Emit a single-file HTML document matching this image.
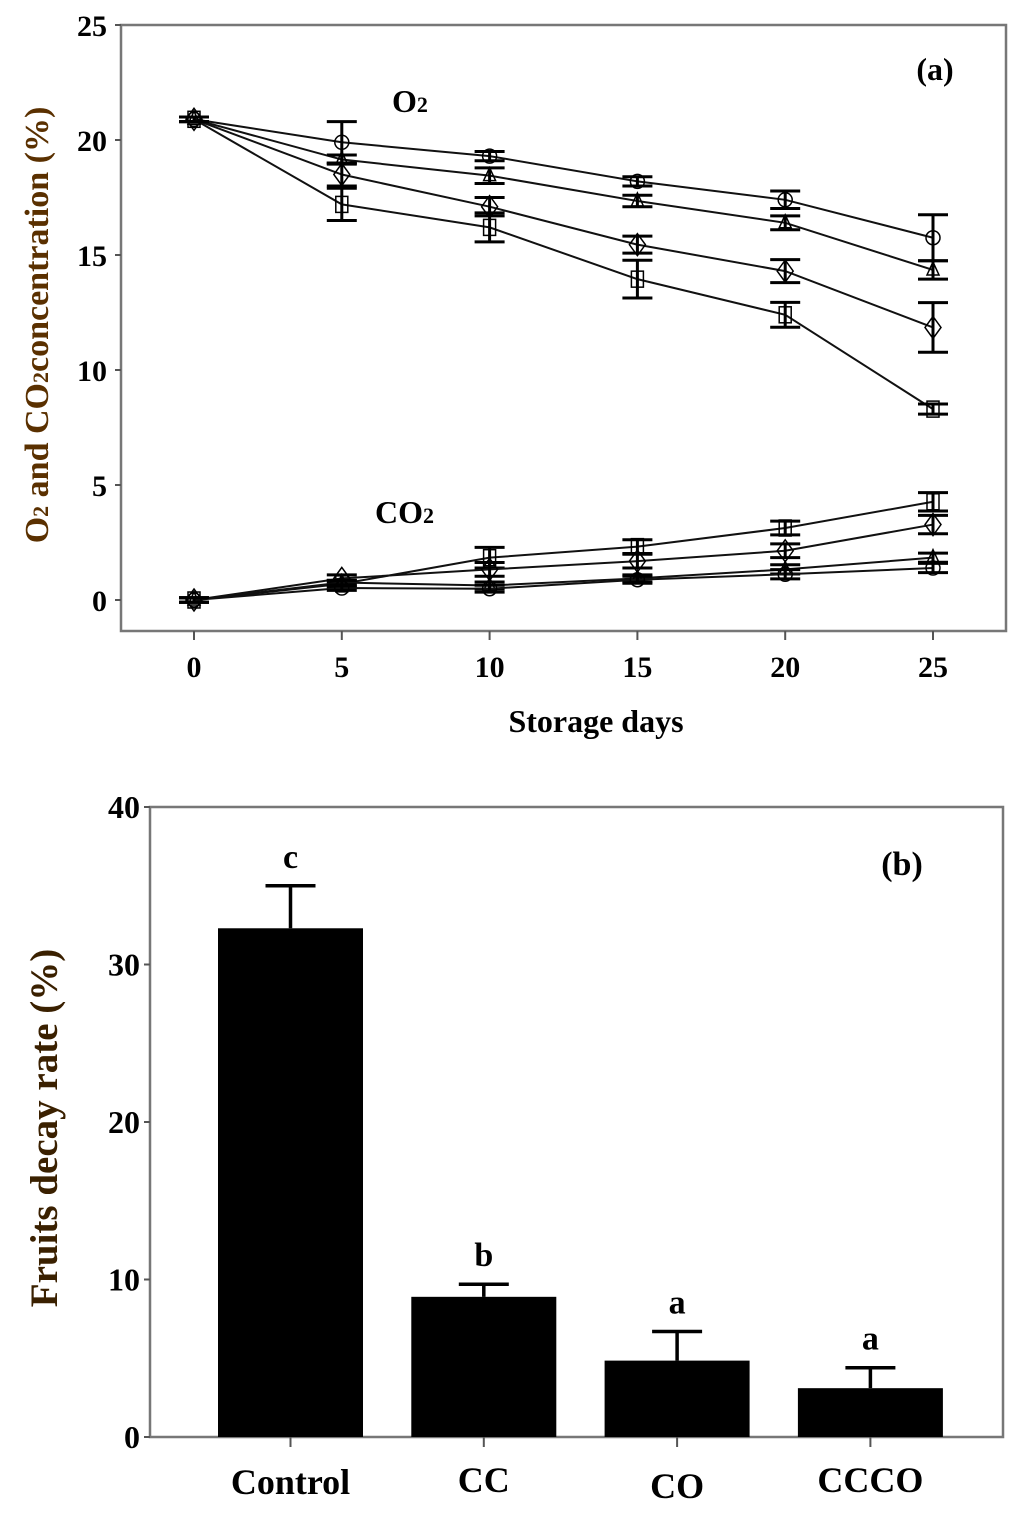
<!DOCTYPE html>
<html><head><meta charset="utf-8"><style>
body{margin:0;background:#fff;}
svg{display:block;font-family:"Liberation Serif",serif;font-weight:bold;}
</style></head><body>
<svg id="chart" width="1024" height="1518" viewBox="0 0 1024 1518" xmlns="http://www.w3.org/2000/svg"></svg>
<script>
// Panel (a) data
const days = [0, 5, 10, 15, 20, 25];
const o2Circle = [20.9, 19.9, 19.3, 18.2, 17.4, 15.75];
const o2CircleErr = [0.1, 0.9, 0.2, 0.2, 0.38, 1.0];
const o2Triangle = [20.9, 19.15, 18.45, 17.35, 16.4, 14.35];
const o2TriangleErr = [0.1, 0.2, 0.34, 0.25, 0.3, 0.4];
const o2Diamond = [20.9, 18.5, 17.1, 15.45, 14.3, 11.85];
const o2DiamondErr = [0.1, 0.5, 0.4, 0.37, 0.5, 1.08];
const o2Square = [20.9, 17.2, 16.2, 13.95, 12.4, 8.3];
const o2SquareErr = [0.1, 0.7, 0.63, 0.82, 0.54, 0.22];
const co2Square = [0, 0.7, 1.84, 2.32, 3.13, 4.27];
const co2SquareErr = [0.1, 0.15, 0.45, 0.3, 0.3, 0.4];
const co2Diamond = [0, 0.94, 1.33, 1.69, 2.14, 3.28];
const co2DiamondErr = [0.1, 0.15, 0.3, 0.3, 0.3, 0.4];
const co2Triangle = [0, 0.76, 0.63, 0.94, 1.33, 1.84];
const co2TriangleErr = [0.1, 0.1, 0.15, 0.15, 0.2, 0.2];
const co2Circle = [0, 0.52, 0.49, 0.88, 1.12, 1.39];
const co2CircleErr = [0.1, 0.1, 0.15, 0.15, 0.2, 0.2];
const yTicksA = [0, 5, 10, 15, 20, 25];
// Panel (b) data
const treatments = ["Control", "CC", "CO", "CCCO"];
const decay = [32.3, 8.9, 4.85, 3.1];
const decayErr = [2.7, 0.8, 1.85, 1.3];
const letters = ["c", "b", "a", "a"];
const yTicksB = [0, 10, 20, 30, 40];

const svg = document.getElementById('chart');
const NS = 'http://www.w3.org/2000/svg';
function mk(tag, attrs, parent) {
  const e = document.createElementNS(NS, tag);
  for (const k in attrs) e.setAttribute(k, attrs[k]);
  (parent || svg).appendChild(e);
  return e;
}
function txt(s, x, y, size, anchor, parent) {
  const t = mk('text', {x: x, y: y, 'font-size': size, 'text-anchor': anchor || 'middle'}, parent);
  t.textContent = s;
  return t;
}

// ---------- Panel A ----------
const ax = {l: 121, r: 1006, t: 25, b: 631};
const xA = d => 194 + d * (933 - 194) / 25;
const yA = v => 600 - v * (600 - 25) / 25;
const gA = mk('g', {});


const frameA = mk('rect', {x: ax.l, y: ax.t, width: ax.r - ax.l, height: ax.b - ax.t, fill: 'none', stroke: '#777', 'stroke-width': 2.5}, gA);


yTicksA.forEach(v => {
  mk('line', {x1: ax.l - 6, x2: ax.l, y1: yA(v), y2: yA(v), stroke: '#555', 'stroke-width': 2}, gA);
  const t = txt(String(v), ax.l - 14, yA(v) + 11, 30, 'end', gA);
  
  
});
days.forEach(d => {
  mk('line', {x1: xA(d), x2: xA(d), y1: ax.b, y2: ax.b + 9, stroke: '#555', 'stroke-width': 2}, gA);
  const t = txt(String(d), xA(d), ax.b + 46, 30, 'middle', gA);
  
  
});
const xt = txt('Storage days', 596, 732, 32, 'middle', gA);


const yt = mk('text', {x: 0, y: 0, 'font-size': 34, 'text-anchor': 'middle', fill: '#5a3000', transform: 'translate(48,325) rotate(-90)'}, gA);


yt.innerHTML = 'O<tspan font-size="22">2</tspan> and CO<tspan font-size="22">2</tspan>concentration (%)';
const pa = txt('(a)', 935, 80, 32, 'middle', gA);


const o2l = mk('text', {x: 392, y: 112, 'font-size': 32}, gA);
o2l.innerHTML = 'O<tspan font-size="22">2</tspan>';


const co2l = mk('text', {x: 375, y: 523, 'font-size': 32}, gA);
co2l.innerHTML = 'CO<tspan font-size="22">2</tspan>';



function marker(shape, x, y, g) {
  const st = {fill: 'none', stroke: '#000', 'stroke-width': 1.5};
  let m;
  if (shape === 'circle') m = mk('circle', Object.assign({cx: x, cy: y, r: 7}, st), g);
  else if (shape === 'square') m = mk('rect', Object.assign({x: x - 6, y: y - 8, width: 12, height: 16}, st), g);
  else if (shape === 'diamond') m = mk('polygon', Object.assign({points: `${x},${y-11} ${x+8},${y} ${x},${y+11} ${x-8},${y}`}, st), g);
  else m = mk('polygon', Object.assign({points: `${x},${y-8} ${x+6},${y+5} ${x-6},${y+5}`}, st), g);
  
  
}
function series(name, vals, errs, shape) {
  const g = mk('g', {}, gA);
  
  
  const pts = days.map((d, i) => xA(d) + ',' + yA(vals[i])).join(' ');
  const ln = mk('polyline', {points: pts, fill: 'none', stroke: '#111', 'stroke-width': 2}, g);
  
  
  days.forEach((d, i) => {
    const x = xA(d), y1 = yA(vals[i] + errs[i]), y2 = yA(vals[i] - errs[i]);
    const eb = mk('path', {d: `M${x},${y1}V${y2}M${x-15},${y1}H${x+15}M${x-15},${y2}H${x+15}`, stroke: '#000', 'stroke-width': 3, fill: 'none'}, g);
    
    
  });
  days.forEach((d, i) => marker(shape, xA(d), yA(vals[i]), g));
}
series('o2-circle', o2Circle, o2CircleErr, 'circle');
series('o2-triangle', o2Triangle, o2TriangleErr, 'triangle');
series('o2-diamond', o2Diamond, o2DiamondErr, 'diamond');
series('o2-square', o2Square, o2SquareErr, 'square');
series('co2-square', co2Square, co2SquareErr, 'square');
series('co2-diamond', co2Diamond, co2DiamondErr, 'diamond');
series('co2-triangle', co2Triangle, co2TriangleErr, 'triangle');
series('co2-circle', co2Circle, co2CircleErr, 'circle');

// ---------- Panel B ----------
const bx = {l: 150, r: 1003, t: 807, b: 1437};
const yB = v => bx.b - v * (bx.b - bx.t) / 40;
const bandW = 193.3, barW = 145, firstC = 290.5;
const xB = i => firstC + i * bandW;
const gB = mk('g', {});


const frameB = mk('rect', {x: bx.l, y: bx.t, width: bx.r - bx.l, height: bx.b - bx.t, fill: 'none', stroke: '#777', 'stroke-width': 2.5}, gB);


yTicksB.forEach(v => {
  mk('line', {x1: bx.l - 6, x2: bx.l, y1: yB(v), y2: yB(v), stroke: '#555', 'stroke-width': 2}, gB);
  const t = txt(String(v), bx.l - 10, yB(v) + 11, 32, 'end', gB);
  
  
});
const ytb = mk('text', {x: 0, y: 0, 'font-size': 39, 'text-anchor': 'middle', fill: '#3a2000', transform: 'translate(57,1128) rotate(-90)'}, gB);
ytb.textContent = 'Fruits decay rate (%)';


const pb = txt('(b)', 902, 875, 34, 'middle', gB);


const labelY = [1494, 1492, 1498, 1492];
treatments.forEach((c, i) => {
  const x = xB(i);
  mk('line', {x1: x, x2: x, y1: bx.b, y2: bx.b + 10, stroke: '#555', 'stroke-width': 2}, gB);
  const t = txt(c, x, labelY[i], 36, 'middle', gB);
  
  
  const bar = mk('rect', {x: x - barW / 2, y: yB(decay[i]), width: barW, height: yB(0) - yB(decay[i]), fill: '#000'}, gB);
  
  
  const top = yB(decay[i] + decayErr[i]);
  const eb = mk('path', {d: `M${x},${yB(decay[i])}V${top}M${x-25},${top}H${x+25}`, stroke: '#000', 'stroke-width': 3.5, fill: 'none'}, gB);
  
  
  const lt = txt(letters[i], x, top - 18, 34, 'middle', gB);
  
  
});
</script>
</body></html>
